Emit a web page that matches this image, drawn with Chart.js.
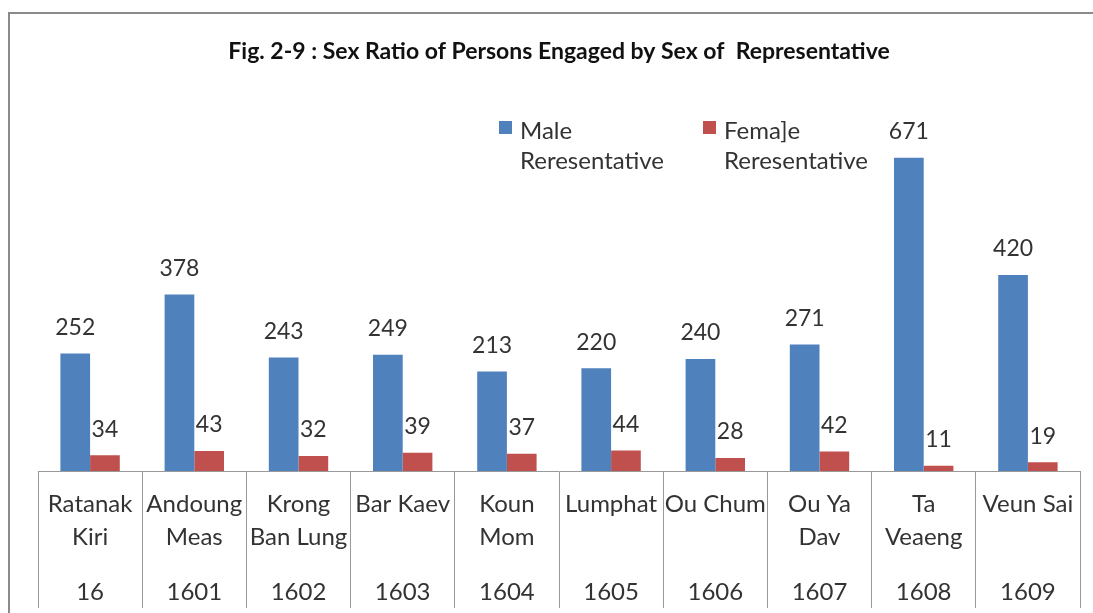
<!DOCTYPE html>
<html>
<head>
<meta charset="utf-8">
<script src="https://cdn.jsdelivr.net/npm/chart.js@4.4.6/dist/chart.umd.min.js"></script>
<style>
  html, body { margin: 0; padding: 0; background: #fff; }
  #wrap { position: relative; width: 1093px; height: 613px; }
</style>
</head>
<body>
<div id="wrap"><canvas id="chart"></canvas></div>
<script>
// data
const places = [
  ['Ratanak', 'Kiri'], ['Andoung', 'Meas'], ['Krong', 'Ban Lung'], ['Bar Kaev'],
  ['Koun', 'Mom'], ['Lumphat'], ['Ou Chum'], ['Ou Ya', 'Dav'], ['Ta', 'Veaeng'], ['Veun Sai']
];
const codes = ['16', '1601', '1602', '1603', '1604', '1605', '1606', '1607', '1608', '1609'];
const maleRep = [252, 378, 243, 249, 213, 220, 240, 271, 671, 420];
const femaleRep = [34, 43, 32, 39, 37, 44, 28, 42, 11, 19];
const seriesNames = [['Male', 'Reresentative'], ['Fema]e', 'Reresentative']];

const textColor = '#333333';
const fontFamily = 'Lato, "Open Sans", sans-serif';

const frame = {
  id: 'frame',
  beforeDraw(chart) {
    const ctx = chart.ctx;
    ctx.save();
    ctx.strokeStyle = '#8a8a8a';
    ctx.lineWidth = 2;
    ctx.beginPath();
    ctx.moveTo(9, chart.height);
    ctx.lineTo(9, 13);
    ctx.lineTo(chart.width, 13);
    ctx.stroke();
    ctx.restore();
  }
};

const valueLabels = {
  id: 'valueLabels',
  afterDatasetsDraw(chart) {
    const ctx = chart.ctx;
    ctx.save();
    ctx.font = '23px ' + fontFamily;
    ctx.fillStyle = textColor;
    ctx.textAlign = 'center';
    ctx.textBaseline = 'middle';
    chart.data.datasets.forEach((ds, di) => {
      chart.getDatasetMeta(di).data.forEach((bar, i) => {
        ctx.fillText(ds.data[i], bar.x, bar.y - 26);
      });
    });
    ctx.restore();
  }
};

// code row under the place names, one per category tick
const codeRow = {
  id: 'codeRow',
  afterDraw(chart) {
    const ctx = chart.ctx;
    const xs = chart.scales.x;
    ctx.save();
    ctx.font = '24px ' + fontFamily;
    ctx.fillStyle = textColor;
    ctx.textAlign = 'center';
    ctx.textBaseline = 'middle';
    codes.forEach((c, i) => {
      ctx.fillText(c, xs.getPixelForTick(i), xs.top + 121);
    });
    ctx.restore();
  }
};

// legend sits inside the plot, two-line labels like the original
const legendBox = {
  id: 'legendBox',
  afterDraw(chart) {
    const ctx = chart.ctx;
    const spots = [499, 703];
    ctx.save();
    ctx.font = '24px ' + fontFamily;
    ctx.textBaseline = 'alphabetic';
    chart.data.datasets.forEach((ds, di) => {
      const x = spots[di];
      ctx.fillStyle = ds.backgroundColor;
      ctx.fillRect(x, 121, 13, 13);
      ctx.fillStyle = textColor;
      ds.label.forEach((line, li) => {
        ctx.fillText(line, x + 21, 139 + li * 30);
      });
    });
    ctx.restore();
  }
};

new Chart(document.getElementById('chart'), {
  type: 'bar',
  data: {
    labels: places,
    datasets: [
      { label: seriesNames[0], data: maleRep, backgroundColor: '#4f81bd' },
      { label: seriesNames[1], data: femaleRep, backgroundColor: '#c0504d' }
    ]
  },
  options: {
    responsive: true,
    maintainAspectRatio: false,
    animation: false,
    events: [],
    datasets: { bar: { barPercentage: 1, categoryPercentage: 0.57 } },
    layout: { padding: { left: 38, right: 13, top: 0, bottom: 0 } },
    plugins: {
      legend: { display: false },
      tooltip: { enabled: false },
      title: {
        display: true,
        text: 'Fig. 2-9 : Sex Ratio of Persons Engaged by Sex of  Representative',
        color: '#111',
        font: { family: fontFamily, size: 23, weight: 'bold', lineHeight: 1.2 },
        padding: { top: 38, bottom: 32 }
      }
    },
    scales: {
      x: {
        grid: {
          offset: true,
          drawOnChartArea: false,
          drawTicks: true,
          tickLength: 137,
          color: '#999'
        },
        border: { display: true, color: '#999', width: 1 },
        ticks: {
          color: textColor,
          padding: -120,
          autoSkip: false,
          maxRotation: 0,
          font: { family: fontFamily, size: 24, lineHeight: 1.375 }
        },
        afterFit(scale) { scale.height = 142; }
      },
      y: {
        display: false,
        min: 0,
        max: 800
      }
    }
  },
  plugins: [frame, valueLabels, codeRow, legendBox]
});
</script>
</body>
</html>
